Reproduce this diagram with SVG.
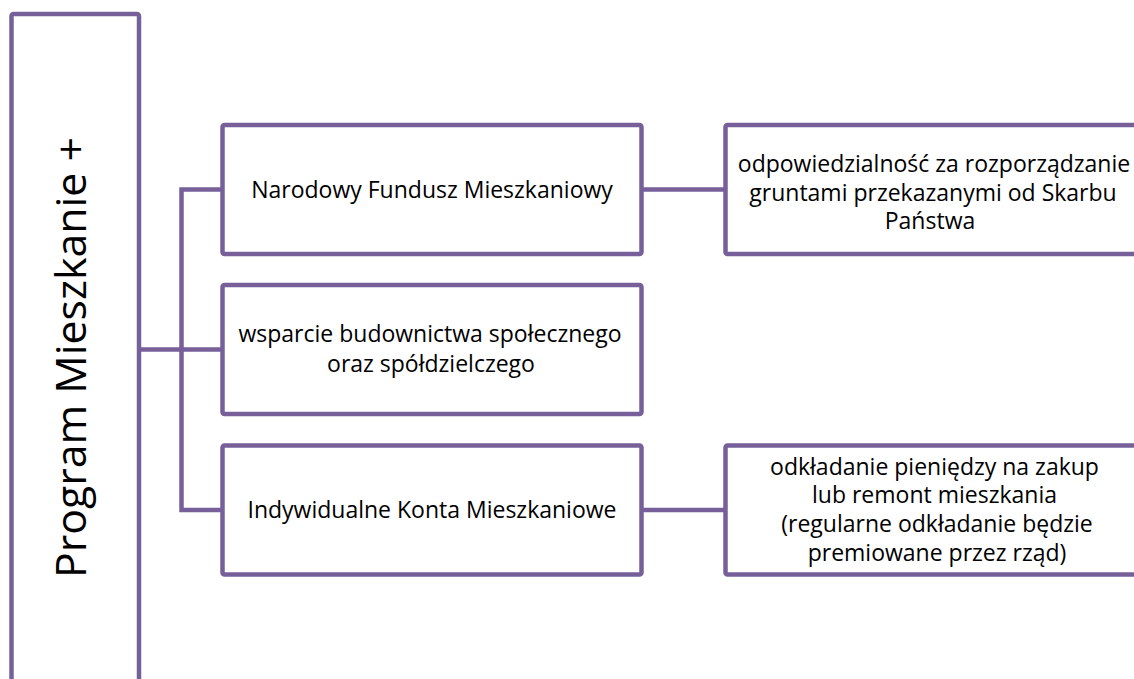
<svg xmlns="http://www.w3.org/2000/svg" width="1134" height="679" viewBox="0 0 1134 679">
<style>
.box{fill:#ffffff;stroke:#775F9A;stroke-width:4.5;}
.conn{fill:none;stroke:#775F9A;stroke-width:4.5;stroke-linecap:butt;}
.t{font-family:"Open Sans",Lato,"Liberation Sans",sans-serif;font-size:23px;fill:#000000;text-anchor:middle;}
.big{font-family:"Open Sans",Lato,"Liberation Sans",sans-serif;font-size:42.8px;fill:#000000;text-anchor:middle;}
</style>
<rect width="1134" height="679" fill="#ffffff"/>
<g id="connectors">
<path class="conn" d="M139 349.5 H222.5"/>
<path class="conn" d="M222.5 189.5 H181.5 V510 H222.5"/>
<path class="conn" d="M641.5 189.5 H725.5"/>
<path class="conn" d="M641.5 510 H725.5"/>
</g>
<g id="root">
<rect class="box" x="11.5" y="14" width="127.5" height="720" rx="2"/>
<text class="big" transform="translate(86,357.5) rotate(-90)">Program Mieszkanie +</text>
</g>
<g id="nfm">
<rect class="box" x="222.5" y="125" width="419" height="129" rx="2"/>
<text class="t" x="432" y="197.5">Narodowy Fundusz Mieszkaniowy</text>
</g>
<g id="wsparcie">
<rect class="box" x="222.5" y="285" width="419" height="129" rx="2"/>
<text class="t" x="430" y="341.7">wsparcie budownictwa społecznego</text>
<text class="t" x="431" y="371.7">oraz spółdzielczego</text>
</g>
<g id="ikm">
<rect class="box" x="222.5" y="445.5" width="419" height="129" rx="2"/>
<text class="t" x="432" y="518">Indywidualne Konta Mieszkaniowe</text>
</g>
<g id="grunty">
<rect class="box" x="725.5" y="125" width="500" height="129" rx="2"/>
<text class="t" x="934" y="171.7">odpowiedzialność za rozporządzanie</text>
<text class="t" x="933" y="200.5">gruntami przekazanymi od Skarbu</text>
<text class="t" x="930" y="229.3">Państwa</text>
</g>
<g id="konta">
<rect class="box" x="725.5" y="445.5" width="500" height="129" rx="2"/>
<text class="t" x="934.5" y="474.5">odkładanie pieniędzy na zakup</text>
<text class="t" x="934.5" y="503.4">lub remont mieszkania</text>
<text class="t" x="937" y="532.4">(regularne odkładanie będzie</text>
<text class="t" x="937" y="561.3">premiowane przez rząd)</text>
</g>
</svg>
